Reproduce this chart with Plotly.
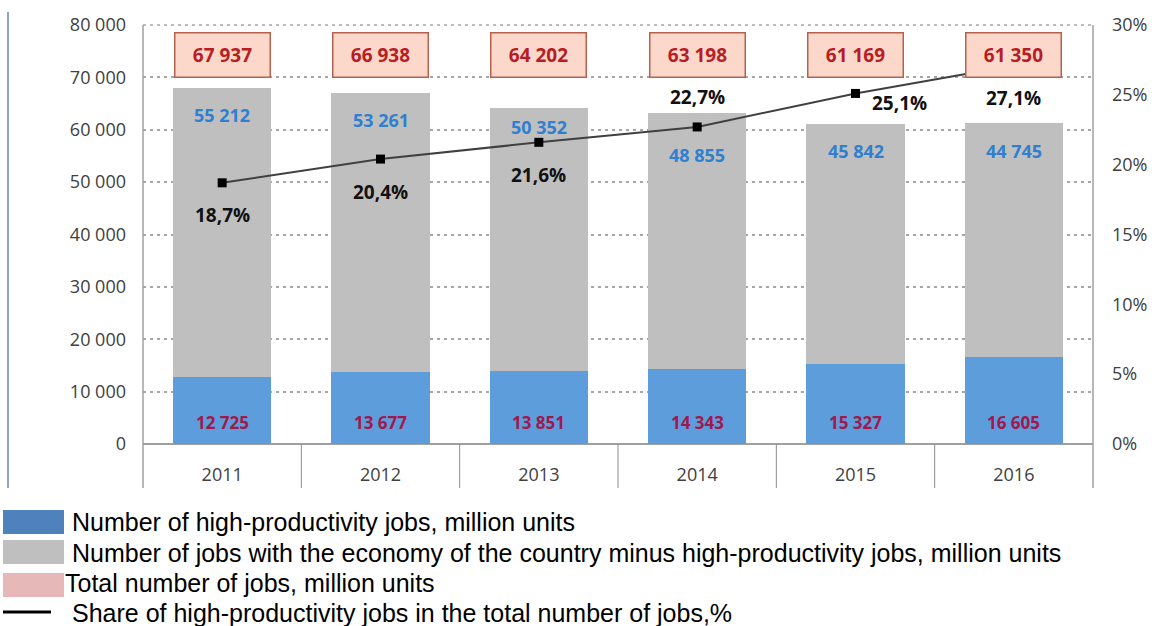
import plotly.graph_objects as go

years = ["2011", "2012", "2013", "2014", "2015", "2016"]
high_prod = [12725, 13677, 13851, 14343, 15327, 16605]
other_jobs = [55212, 53261, 50352, 48855, 45842, 44745]
total_jobs = [67937, 66938, 64202, 63198, 61169, 61350]
share_pct = [18.7, 20.4, 21.6, 22.7, 25.1, 27.1]

y_ticks = [0, 10000, 20000, 30000, 40000, 50000, 60000, 70000, 80000]
y2_ticks = [0, 5, 10, 15, 20, 25, 30]

legend_labels = [
    "Number of high-productivity jobs, million units",
    "Number of jobs with the economy of the country minus high-productivity jobs, million units",
    "Total number of jobs, million units",
    "Share of high-productivity jobs in the total number of jobs,%",
]

W, H = 1152, 626
L, R, T, B = 143, 1093, 25, 444


def px_x(px):
    return (px - L) / (R - L)


def px_y(py):
    return (B - py) / (B - T)


def fmt(v):
    return f"{v:,}".replace(",", " ")


def fmt_pct(v):
    return f"{v:.1f}%".replace(".", ",")


CHART_FONT = "Open Sans"
GRID = "#A6A6A6"

fig = go.Figure()
fig.add_trace(go.Bar(x=years, y=high_prod, marker_color="#5E9DDB", marker_line_width=0,
                     hoverinfo="skip", showlegend=False))
fig.add_trace(go.Bar(x=years, y=other_jobs, marker_color="#C0BFBF", marker_line_width=0,
                     hoverinfo="skip", showlegend=False))
fig.add_trace(go.Scatter(x=years, y=share_pct, yaxis="y2", mode="lines+markers",
                         line=dict(color="#404040", width=2),
                         marker=dict(symbol="square", size=9, color="#000000"),
                         hoverinfo="skip", showlegend=False))

ann = []
# total boxes
for i, t in enumerate(total_jobs):
    ann.append(dict(x=i, y=px_y(55), xref="x", yref="paper", yanchor="middle", xanchor="center",
                    text=f"<b>{fmt(t)}</b>",
                    showarrow=False, bgcolor="#FCD8CB", bordercolor="#B8604E", borderwidth=1.5,
                    borderpad=0, width=94, height=43,
                    font=dict(family=CHART_FONT, size=19, color="#B81D24")))
# grey segment labels
grey_shift = [-27, -27, -19, -42, -27, -28]
for i, (t, o, s) in enumerate(zip(total_jobs, other_jobs, grey_shift)):
    ann.append(dict(x=i, y=t, xref="x", yref="y", text=f"<b>{fmt(o)}</b>", showarrow=False,
                    yshift=s, font=dict(family=CHART_FONT, size=18, color="#2F80D0")))
# blue segment labels
for i, h in enumerate(high_prod):
    ann.append(dict(x=i, y=0, xref="x", yref="y", text=f"<b>{fmt(h)}</b>", showarrow=False,
                    yshift=22, font=dict(family=CHART_FONT, size=17, color="#9E1A4E")))
# percent labels
pct_xshift = [0, 0, 0, 0, 44, 0]
pct_yshift = [-32, -33, -33, 30, -10, -32]
for i, (p, dx, dy) in enumerate(zip(share_pct, pct_xshift, pct_yshift)):
    ann.append(dict(x=i, y=p, xref="x", yref="y2", text=f"<b>{fmt_pct(p)}</b>", showarrow=False,
                    xshift=dx, yshift=dy, font=dict(family=CHART_FONT, size=19, color="#111111")))

# legend
LEG_FONT = dict(family="Liberation Sans, Arial", size=25, color="#000000")
leg_rows = [
    ("#4F81BD", 510, 534, 70, 522),
    ("#BFBFBF", 540, 564, 70, 553),
    ("#E6B8B7", 573, 597, 63, 583),
]
shapes = []
for (col, y0, y1, tx, ty), lab in zip(leg_rows, legend_labels[:3]):
    shapes.append(dict(type="rect", xref="paper", yref="paper", x0=px_x(3), x1=px_x(64),
                       y0=px_y(y1), y1=px_y(y0), fillcolor=col, line_width=0))
    ann.append(dict(x=px_x(tx), y=px_y(ty), xref="paper", yref="paper", text=lab,
                    showarrow=False, xanchor="left", yanchor="middle", font=LEG_FONT))
shapes.append(dict(type="line", xref="paper", yref="paper", x0=px_x(3), x1=px_x(51),
                   y0=px_y(612), y1=px_y(612), line=dict(color="#000000", width=3)))
ann.append(dict(x=px_x(70), y=px_y(613), xref="paper", yref="paper", text=legend_labels[3],
                showarrow=False, xanchor="left", yanchor="middle", font=LEG_FONT))

# top dashed gridline at 80 000
shapes.append(dict(type="line", xref="paper", yref="paper", x0=0, x1=1, y0=1, y1=1,
                   line=dict(color=GRID, width=1.5, dash="3px,4px"), layer="below"))
# category separators below axis
for k in range(len(years) - 1):
    shapes.append(dict(type="line", xref="x", yref="paper", x0=k + 0.5, x1=k + 0.5,
                       y0=0, y1=px_y(488), line=dict(color="#8C8C8C", width=1)))
for xb in (0, 1):
    shapes.append(dict(type="line", xref="paper", yref="paper", x0=xb, x1=xb,
                       y0=px_y(488), y1=1, line=dict(color="#A0A0A0", width=1.5)))
# outer left border of the picture
shapes.append(dict(type="line", xref="paper", yref="paper", x0=px_x(8), x1=px_x(8),
                   y0=px_y(488), y1=px_y(12), line=dict(color="#8EA6CF", width=2)))

fig.update_layout(
    width=W, height=H,
    margin=dict(l=L, r=W - R, t=T, b=H - B, autoexpand=False),
    paper_bgcolor="white", plot_bgcolor="white",
    barmode="stack", bargap=0.38,
    showlegend=False,
    xaxis=dict(type="category", range=[-0.5, 5.5], showgrid=False, showline=False,
               zeroline=False, ticks="", ticklabelstandoff=18, automargin=False,
               tickfont=dict(family=CHART_FONT, size=18, color="#404040")),
    yaxis=dict(range=[0, 80000], tickvals=y_ticks, ticktext=[fmt(v) for v in y_ticks],
               showgrid=True, gridcolor=GRID, griddash="3px,4px", gridwidth=1.5,
               zeroline=True, zerolinecolor="#A0A0A0", zerolinewidth=1.5,
               showline=False, ticks="", ticklabelstandoff=16, automargin=False,
               tickfont=dict(family=CHART_FONT, size=18, color="#404040")),
    yaxis2=dict(range=[0, 30], overlaying="y", side="right", tickvals=y2_ticks,
                ticktext=[f"{v}%" for v in y2_ticks], showgrid=False, zeroline=False,
                showline=False, ticks="", ticklabelstandoff=18, automargin=False,
                tickfont=dict(family=CHART_FONT, size=18, color="#404040")),
    annotations=ann,
    shapes=shapes,
)

fig.write_html("out.html")
